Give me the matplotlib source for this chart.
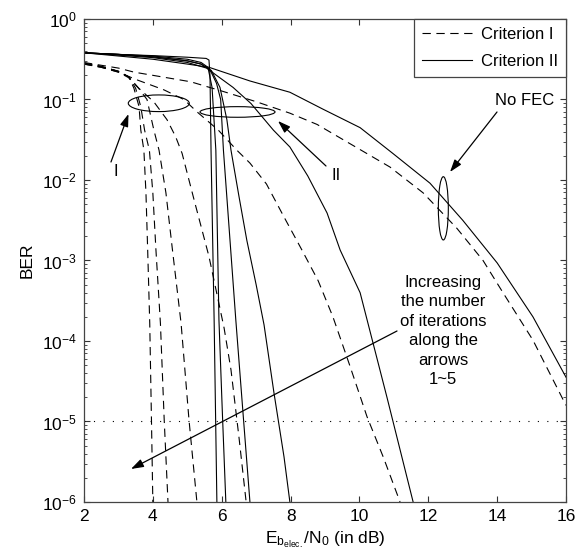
import matplotlib
matplotlib.use("Agg")
import matplotlib.pyplot as plt
from matplotlib.patches import Ellipse
import numpy as np

plt.rcParams['font.family'] = ['Liberation Sans', 'DejaVu Sans']
plt.rcParams['mathtext.fontset'] = 'custom'
plt.rcParams['mathtext.rm'] = 'Liberation Sans'
plt.rcParams['mathtext.it'] = 'Liberation Sans'
plt.rcParams['mathtext.bf'] = 'Liberation Sans:bold'

# ---------------- data (x in dB, log10 BER) ----------------
# Criterion I (dashed), iterations 5 .. 1
c1_it5_x = [2, 2.5, 3, 3.3, 3.45, 3.6, 3.65, 3.74, 3.80, 3.85, 3.91, 3.96, 4.0]
c1_it5_logber = [-0.55, -0.59, -0.65, -0.72, -0.86, -1.09, -1.38, -1.63, -2.16, -2.87, -3.78, -4.98, -6.0]
c1_it4_x = [2, 2.5, 3, 3.3, 3.5, 3.65, 3.76, 3.9, 4.0, 4.09, 4.22, 4.33, 4.44]
c1_it4_logber = [-0.55, -0.59, -0.65, -0.72, -0.86, -1.09, -1.38, -1.63, -2.16, -2.87, -3.78, -4.98, -6.0]
c1_it3_x = [2, 2.5, 3, 3.3, 3.55, 3.83, 4.03, 4.18, 4.38, 4.57, 4.82, 5.05, 5.28]
c1_it3_logber = [-0.55, -0.59, -0.65, -0.72, -0.84, -1.0, -1.38, -1.63, -2.16, -2.87, -3.78, -4.98, -6.0]
c1_it2_x = [2, 2.5, 3, 3.3, 3.54, 4.03, 4.41, 4.66, 4.85, 5.2, 5.63, 6.07, 6.27, 6.5, 6.71]
c1_it2_logber = [-0.56, -0.60, -0.66, -0.73, -0.84, -1.03, -1.25, -1.46, -1.67, -2.25, -2.95, -3.84, -4.36, -5.19, -6.0]
c1_it1_x = [2, 2.5, 3, 3.5, 4.32, 4.9, 5.3, 5.9, 6.44, 6.82, 7.3, 7.81, 8.33, 8.8, 9.23, 9.7, 10.22, 10.7, 11.18]
c1_it1_logber = [-0.56, -0.60, -0.66, -0.75, -0.88, -1.0, -1.16, -1.38, -1.63, -1.79, -2.05, -2.46, -2.87, -3.25, -3.70, -4.28, -4.94, -5.45, -6.0]
c1_nofec_x = [2, 3, 3.45, 4, 5.1, 6.04, 7.02, 7.98, 8.77, 9.73, 10.89, 11.85, 12.83, 13.59, 14.17, 15.04, 16]
c1_nofec_logber = [-0.54, -0.61, -0.66, -0.70, -0.78, -0.90, -1.03, -1.17, -1.31, -1.55, -1.84, -2.16, -2.60, -3.0, -3.40, -3.99, -4.80]

# Criterion II (solid), iterations 5 .. 1
c2_it5_x = [2, 3, 4, 5, 5.55, 5.63, 5.66, 5.69, 5.78, 5.86]
c2_it5_logber = [-0.42, -0.44, -0.455, -0.475, -0.49, -0.51, -0.7, -1.63, -3.74, -6.0]
c2_it4_x = [2, 3, 4, 5, 5.4, 5.6, 5.72, 5.83, 5.92, 6.02, 6.12]
c2_it4_logber = [-0.42, -0.44, -0.46, -0.50, -0.54, -0.60, -0.85, -1.63, -3.74, -4.9, -6.0]
c2_it3_x = [2, 3, 4, 5, 5.4, 5.66, 5.85, 5.97, 6.05, 6.41, 6.62, 6.82]
c2_it3_logber = [-0.42, -0.44, -0.47, -0.52, -0.56, -0.63, -0.80, -1.0, -1.63, -3.74, -4.9, -6.0]
c2_it2_x = [2, 3, 4, 5, 5.4, 5.7, 5.95, 6.15, 6.27, 6.5, 6.73, 7.0, 7.23, 7.52, 7.81, 7.98]
c2_it2_logber = [-0.42, -0.44, -0.47, -0.52, -0.56, -0.64, -0.85, -1.25, -1.63, -2.2, -2.75, -3.3, -3.8, -4.65, -5.44, -6.0]
c2_it1_x = [2, 3, 4, 5, 5.56, 6.33, 6.85, 7.5, 7.98, 8.5, 9.06, 9.44, 10.02, 10.8, 11.56]
c2_it1_logber = [-0.42, -0.45, -0.48, -0.54, -0.61, -0.85, -1.05, -1.38, -1.59, -1.95, -2.41, -2.87, -3.40, -4.70, -6.0]
c2_nofec_x = [2, 3, 4, 5, 5.63, 6.82, 7.98, 8.94, 10.02, 10.97, 12.05, 13.0, 14.0, 15.04, 16]
c2_nofec_logber = [-0.42, -0.46, -0.50, -0.56, -0.60, -0.77, -0.91, -1.12, -1.35, -1.67, -2.04, -2.50, -3.03, -3.70, -4.45]

target_ber = 1e-5
x_ticks = [2, 4, 6, 8, 10, 12, 14, 16]
legend_labels = ['Criterion I', 'Criterion II']

# ---------------- figure ----------------
fig = plt.figure(figsize=(5.84, 5.55), dpi=100)
ax = fig.add_axes([0.1438, 0.0955, 0.8254, 0.8703])

lw = 0.8
dash = (7.5, 5.0)   # scaled by linewidth -> ~6pt on, 4pt off
crit1 = [(c1_it5_x, c1_it5_logber), (c1_it4_x, c1_it4_logber), (c1_it3_x, c1_it3_logber),
         (c1_it2_x, c1_it2_logber), (c1_it1_x, c1_it1_logber), (c1_nofec_x, c1_nofec_logber)]
crit2 = [(c2_it5_x, c2_it5_logber), (c2_it4_x, c2_it4_logber), (c2_it3_x, c2_it3_logber),
         (c2_it2_x, c2_it2_logber), (c2_it1_x, c2_it1_logber), (c2_nofec_x, c2_nofec_logber)]

for i, (xs, ls) in enumerate(crit1):
    ax.plot(xs, 10.0 ** np.array(ls), color='k', lw=lw, linestyle=(0, dash),
            label=legend_labels[0] if i == 0 else None)
for i, (xs, ls) in enumerate(crit2):
    ax.plot(xs, 10.0 ** np.array(ls), color='k', lw=lw, linestyle='-',
            label=legend_labels[1] if i == 0 else None)

ax.axhline(target_ber, color='k', lw=0.8, linestyle=(0, (1.0, 7.5)))

ax.set_yscale('log')
ax.set_xlim(2, 16)
ax.set_ylim(1e-6, 1)
ax.set_xticks(x_ticks)
ax.tick_params(which='both', direction='in', top=True, right=True, labelsize=12.5, color='#333333')
ax.tick_params(which='major', length=4, pad=5)
ax.tick_params(which='minor', length=2)
ax.tick_params(axis='x', which='minor', bottom=False, top=False)
ax.xaxis.get_offset_text().set_visible(False)
ax.yaxis.get_offset_text().set_visible(False)
for s in ax.spines.values():
    s.set_color('#444444')
    s.set_linewidth(0.9)

ax.set_ylabel('BER', fontsize=12.5, labelpad=5)
ax.set_xlabel(r'$\mathregular{E_{b_{elec.}}/N_0}$ (in dB)', fontsize=12.5, labelpad=4)

leg = ax.legend(loc='upper right', fontsize=12, handlelength=3.0, fancybox=False,
                borderaxespad=0, framealpha=1, edgecolor='#444444', borderpad=0.5,
                labelspacing=0.7, handletextpad=0.5)
leg.get_frame().set_linewidth(0.9)

# ---------------- annotations ----------------
tA = ax.transAxes
for (cx, cy, w, h) in [(0.1552, 0.8255, 0.1266, 0.0345),
                       (0.3185, 0.8075, 0.1556, 0.022),
                       (0.7455, 0.608, 0.0207, 0.131)]:
    ax.add_patch(Ellipse((cx, cy), w, h, transform=tA, fill=False, ec='k', lw=0.8))

def px(xp, yp):
    return ((xp - 84) / 482.0, 1 - (yp - 19) / 483.0)

aprops = dict(arrowstyle='-|>,head_length=0.75,head_width=0.25', color='k', lw=0.9,
              shrinkA=0, shrinkB=0)
fs = 12
ax.annotate('', xy=px(128.5, 114), xytext=px(111, 162), xycoords=tA, textcoords=tA, arrowprops=aprops)
ax.text(*px(116, 172), 'I', transform=tA, ha='center', va='center', fontsize=fs)
ax.annotate('', xy=px(278, 121), xytext=px(326, 166), xycoords=tA, textcoords=tA, arrowprops=aprops)
ax.text(*px(336, 176), 'II', transform=tA, ha='center', va='center', fontsize=fs)
ax.annotate('', xy=px(450, 172), xytext=px(497, 112), xycoords=tA, textcoords=tA, arrowprops=aprops)
ax.text(*px(525, 101), 'No FEC', transform=tA, ha='center', va='center', fontsize=fs)
ax.annotate('', xy=px(131, 469), xytext=px(397, 331), xycoords=tA, textcoords=tA, arrowprops=aprops)
ax.text(*px(443, 331), 'Increasing\nthe number\nof iterations\nalong the\narrows\n1~5', transform=tA,
        ha='center', va='center', fontsize=fs, linespacing=1.38)

fig.savefig('out.png', dpi=100)
